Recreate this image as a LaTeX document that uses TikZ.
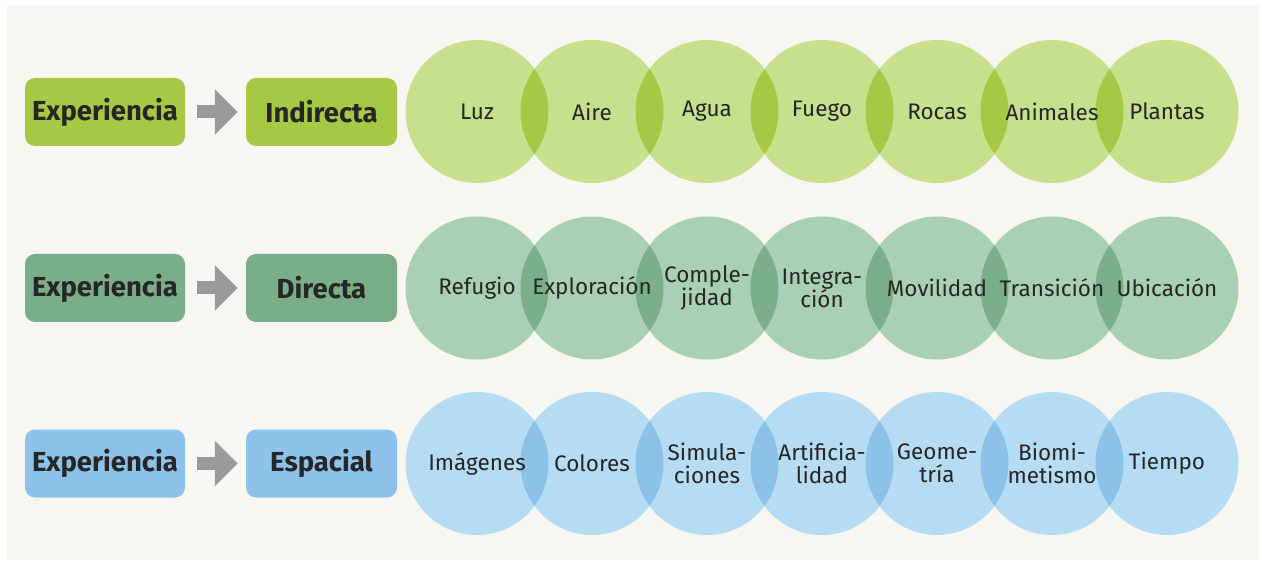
\documentclass[tikz,border=0pt]{standalone}
\usepackage{fontspec}
\setmainfont{Fira Sans}
\usetikzlibrary{arrows.meta}
\definecolor{bgc}{HTML}{F7F6F1}
\definecolor{txt}{HTML}{262626}
\definecolor{arr}{HTML}{9A9A9C}
\definecolor{boxA}{HTML}{A7C844}
\definecolor{ltA}{HTML}{C8DF8E}
\definecolor{dkA}{HTML}{A7C844}
\definecolor{boxB}{HTML}{7AAE89}
\definecolor{ltB}{HTML}{A9CFB6}
\definecolor{dkB}{HTML}{7BAE8A}
\definecolor{boxC}{HTML}{8DC3EA}
\definecolor{ltC}{HTML}{B5DCF3}
\definecolor{dkC}{HTML}{8CC2E8}
\pgfdeclarelayer{bgl}
\pgfdeclarelayer{midl}
\pgfsetlayers{bgl,midl,main}
\newcommand\mybub[2]{\fill[#2] (#1.center) circle (71.5);}
\newcommand\mylens[3]{\begin{scope}\clip (#1.center) circle (71.5);\fill[#3] (#2.center) circle (71.5);\end{scope}}
\tikzset{
  headbox/.style={rounded corners=10pt, minimum height=68pt, inner sep=0pt, text=txt,
    font=\fontsize{27.5}{29}\selectfont\bfseries},
  bubble/.style={circle, minimum size=143pt, inner sep=0pt, text=txt, align=center,
    font=\fontsize{22.5}{23}\selectfont},
  bigarrow/.style={draw=arr, line width=13pt, -{Triangle[length=23pt,width=44pt]}}
}
\begin{document}
\begin{tikzpicture}[x=1pt,y=-1pt]
% row 1
\node[headbox, fill=boxA, minimum width=160pt] (e1) at (105,112) {Experiencia};
\node[headbox, fill=boxA, minimum width=151pt] (t1) at (321.5,112) {Indirecta};
\draw[bigarrow] ([xshift=12pt]e1.east) -- ([xshift=-8pt]t1.west);
% row 2
\node[headbox, fill=boxB, minimum width=160pt] (e2) at (105,288) {Experiencia};
\node[headbox, fill=boxB, minimum width=151pt] (t2) at (321.5,288) {Directa};
\draw[bigarrow] ([xshift=12pt]e2.east) -- ([xshift=-8pt]t2.west);
% row 3
\node[headbox, fill=boxC, minimum width=160pt] (e3) at (105,463.5) {Experiencia};
\node[headbox, fill=boxC, minimum width=151pt] (t3) at (321.5,463.5) {Espacial};
\draw[bigarrow] ([xshift=12pt]e3.east) -- ([xshift=-8pt]t3.west);

% bubbles row 1
\node[bubble] (a0) at (477,111.5) {Luz};
\node[bubble] (a1) at (592,111.5) {Aire};
\node[bubble] (a2) at (707,111.5) {Agua};
\node[bubble] (a3) at (822,111.5) {Fuego};
\node[bubble] (a4) at (937,111.5) {Rocas};
\node[bubble] (a5) at (1052,111.5) {Animales};
\node[bubble] (a6) at (1167,111.5) {Plantas};
% bubbles row 2
\node[bubble] (b0) at (477,288) {Refugio};
\node[bubble] (b1) at (592,288) {Exploración};
\node[bubble] (b2) at (707,288) {Comple-\\jidad};
\node[bubble] (b3) at (822,288) {Integra-\\ción};
\node[bubble] (b4) at (937,288) {Movilidad};
\node[bubble] (b5) at (1052,288) {Transición};
\node[bubble] (b6) at (1167,288) {Ubicación};
% bubbles row 3
\node[bubble] (c0) at (477,463.5) {Imágenes};
\node[bubble] (c1) at (592,463.5) {Colores};
\node[bubble] (c2) at (707,463.5) {Simula-\\ciones};
\node[bubble] (c3) at (822,463.5) {Artificia-\\lidad};
\node[bubble] (c4) at (937,463.5) {Geome-\\tría};
\node[bubble] (c5) at (1052,463.5) {Biomi-\\metismo};
\node[bubble] (c6) at (1167,463.5) {Tiempo};

\begin{pgfonlayer}{bgl}
  \fill[white] (0,0) rectangle (1262,564);
  \fill[bgc] (7,6) rectangle (1259,560);
  \mybub{a0}{ltA}\mybub{a1}{ltA}\mybub{a2}{ltA}\mybub{a3}{ltA}\mybub{a4}{ltA}\mybub{a5}{ltA}\mybub{a6}{ltA}
  \mybub{b0}{ltB}\mybub{b1}{ltB}\mybub{b2}{ltB}\mybub{b3}{ltB}\mybub{b4}{ltB}\mybub{b5}{ltB}\mybub{b6}{ltB}
  \mybub{c0}{ltC}\mybub{c1}{ltC}\mybub{c2}{ltC}\mybub{c3}{ltC}\mybub{c4}{ltC}\mybub{c5}{ltC}\mybub{c6}{ltC}
\end{pgfonlayer}
\begin{pgfonlayer}{midl}
  \mylens{a0}{a1}{dkA}\mylens{a1}{a2}{dkA}\mylens{a2}{a3}{dkA}\mylens{a3}{a4}{dkA}\mylens{a4}{a5}{dkA}\mylens{a5}{a6}{dkA}
  \mylens{b0}{b1}{dkB}\mylens{b1}{b2}{dkB}\mylens{b2}{b3}{dkB}\mylens{b3}{b4}{dkB}\mylens{b4}{b5}{dkB}\mylens{b5}{b6}{dkB}
  \mylens{c0}{c1}{dkC}\mylens{c1}{c2}{dkC}\mylens{c2}{c3}{dkC}\mylens{c3}{c4}{dkC}\mylens{c4}{c5}{dkC}\mylens{c5}{c6}{dkC}
\end{pgfonlayer}
\end{tikzpicture}
\end{document}
